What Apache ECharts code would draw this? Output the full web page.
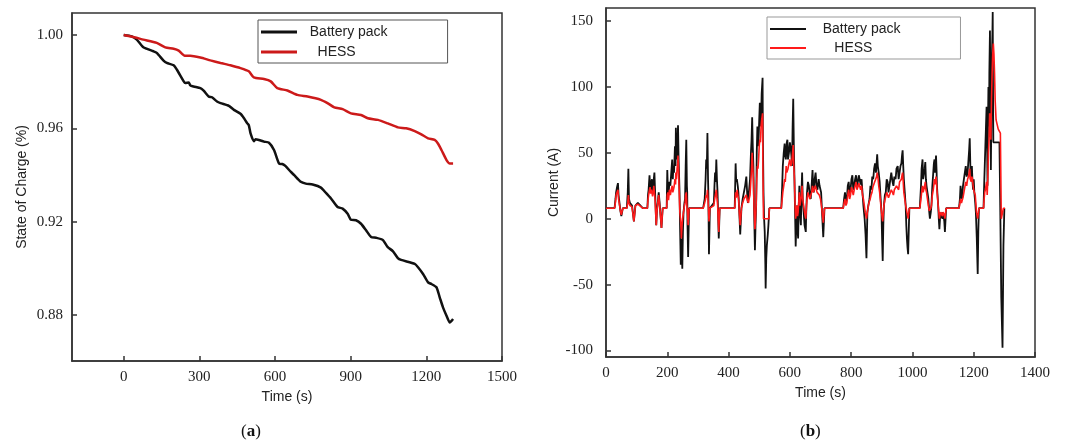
<!DOCTYPE html>
<html>
<head>
<meta charset="utf-8">
<script src="https://cdn.jsdelivr.net/npm/echarts@6/dist/echarts.min.js"></script>
<style>
html,body{margin:0;padding:0;background:#fff;}
#chart{width:1069px;height:444px;}
</style>
</head>
<body>
<div id="chart"></div>
<script>
// ---- Panel (a): State of charge ----
const socBattTime = [0,32,52,78,118,131,158,171,198,211,238,244,258,264,277,304,317,337,350,370,384,417,437,463,477,490,496,503,516,523,536,556,576,596,616,629,642,662,676,702,722,749,782,802,822,848,868,888,901,921,941,961,981,1001,1027,1047,1067,1087,1100,1154,1167,1187,1207,1220,1240,1253,1266,1280,1293,1300,1306];
const socBatt = [1.0000,0.9994,0.9980,0.9947,0.9930,0.9923,0.9890,0.9880,0.9870,0.9851,0.9801,0.9794,0.9796,0.9784,0.9779,0.9772,0.9761,0.9736,0.9733,0.9715,0.9708,0.9696,0.9679,0.9662,0.9643,0.9621,0.9614,0.9578,0.9545,0.9553,0.9550,0.9543,0.9538,0.9507,0.9449,0.9447,0.9438,0.9414,0.9399,0.9371,0.9363,0.9359,0.9346,0.9323,0.9299,0.9263,0.9256,0.9234,0.9208,0.9206,0.9191,0.9163,0.9134,0.9131,0.9122,0.9091,0.9074,0.9044,0.9036,0.9019,0.9005,0.8976,0.8940,0.8933,0.8919,0.8876,0.8833,0.8797,0.8768,0.8775,0.8783];
const socHessTime = [0,38,78,131,165,198,218,242,264,304,344,384,423,463,496,516,556,583,609,649,689,729,782,808,835,868,901,941,968,1008,1047,1087,1120,1154,1180,1207,1233,1246,1260,1280,1293,1306];
const socHess = [1.0000,0.9991,0.9980,0.9966,0.9947,0.9941,0.9933,0.9911,0.9911,0.9903,0.9891,0.9880,0.9870,0.9858,0.9844,0.9818,0.9811,0.9801,0.9772,0.9762,0.9743,0.9736,0.9722,0.9708,0.9690,0.9682,0.9664,0.9657,0.9643,0.9636,0.9621,0.9604,0.9600,0.9588,0.9574,0.9557,0.9550,0.9535,0.9507,0.9464,0.9449,0.9449];
const socXTicks = [0,300,600,900,1200,1500];
const socYTicks = [0.88,0.92,0.96,1.00];

// ---- Panel (b): Current, [time (s), current (A)] ----
const curBattPoints = [
[0,8],[28,8],[31,15],[33,20],[36,24],[39,27],[41,18],[43,14],[47,6],[50,2],[55,8],[68,8],[71,20],[73,38],[75,15],[78,12],[85,10],[91,-2],[96,10],[104,12],[110,11],[120,8],[135,8],[137,18],[139,22],[142,33],[144,24],[146,20],[148,28],[150,30],[152,20],[154,22],[156,30],[158,35],[161,15],[164,-5],[166,5],[168,10],[172,20],[175,12],[177,5],[181,-7],[185,8],[198,8],
[200,37],[202,22],[204,18],[207,28],[210,25],[213,35],[216,45],[218,30],[220,40],[222,35],[225,55],[227,40],[228,69],[230,45],[232,50],[234,62],[235,71],[237,45],[240,20],[242,-10],[244,-35],[245,-15],[246,-20],[248,-30],[249,-38],[251,-10],[253,5],[256,12],[258,15],[260,40],[262,60],[264,25],[265,20],[266,-5],[268,-29],[271,8],
[317,8],[322,15],[325,30],[327,45],[329,38],[331,65],[333,30],[334,20],[336,-27],[339,8],[352,12],[354,25],[356,35],[358,28],[360,45],[362,30],[364,20],[368,-15],[371,8],
[420,8],[423,42],[425,28],[427,30],[430,25],[432,20],[435,5],[438,-12],[442,8],[446,15],[450,20],[454,25],[458,32],[461,18],[463,12],[467,22],[470,30],[473,50],[475,60],[477,77],[479,55],[481,40],[483,10],[486,-24],[488,-5],[490,10],[492,50],[494,70],[496,55],[498,60],[500,75],[502,88],[504,70],[506,75],[508,95],[511,107],[512,60],[514,20],[516,0],[518,-10],[520,-35],[521,-53],[523,-30],[525,-20],[528,-12],[530,-5],[533,8],
[572,8],[575,25],[577,40],[580,50],[583,57],[585,48],[587,45],[590,58],[592,60],[594,45],[597,50],[600,58],[602,55],[605,48],[607,40],[609,70],[611,91],[613,55],[615,30],[617,5],[619,-21],[621,-5],[623,10],[625,-8],[627,-15],[629,10],[631,25],[633,5],[636,-5],[638,20],[640,35],[642,15],[645,5],[648,-5],[652,-10],[654,10],[656,20],[659,28],[662,25],[665,18],[668,15],[671,25],[674,37],[676,25],[678,20],[681,30],[684,35],[687,25],[690,22],[694,30],[697,25],[700,22],[702,20],[705,5],[709,-14],[713,8],
[774,8],[777,15],[780,20],[783,12],[786,15],[789,25],[792,28],[795,18],[798,22],[801,30],[804,33],[807,22],[810,25],[813,30],[816,33],[819,25],[822,28],[825,33],[828,33],[831,26],[834,30],[837,20],[840,10],[844,0],[847,-12],[850,-30],[853,5],[856,10],[860,15],[863,25],[866,22],[869,32],[872,30],[875,38],[878,42],[881,35],[885,49],[887,40],[890,35],[893,28],[895,20],[899,5],[901,-15],[903,-32],[905,-5],[907,10],[910,18],[913,20],[916,30],[919,28],[922,20],[925,25],[928,30],[931,35],[935,28],[938,25],[941,32],[945,30],[948,38],[952,40],[955,30],[958,35],[961,40],[964,42],[966,48],[968,52],[970,40],[972,30],[975,20],[978,10],[980,-5],[982,-15],[984,-22],[986,-27],[990,8],
[1024,8],[1028,25],[1030,38],[1033,45],[1035,30],[1038,30],[1040,38],[1042,43],[1044,30],[1046,25],[1049,20],[1052,15],[1055,5],[1057,0],[1060,5],[1062,10],[1065,25],[1068,35],[1070,42],[1072,45],[1074,35],[1077,48],[1079,35],[1080,25],[1084,10],[1086,0],[1088,-8],[1090,0],[1092,5],[1095,2],[1098,0],[1100,5],[1102,5],[1104,-2],[1106,-10],[1110,8],
[1152,8],[1155,15],[1157,25],[1160,18],[1162,15],[1165,25],[1168,30],[1171,35],[1174,40],[1177,32],[1180,35],[1183,45],[1185,52],[1187,61],[1189,40],[1190,30],[1192,35],[1194,40],[1196,28],[1198,22],[1200,30],[1202,20],[1205,12],[1207,5],[1210,-15],[1213,-42],[1215,-10],[1217,8],[1232,8],[1234,25],[1236,40],[1238,55],[1240,70],[1242,85],[1244,50],[1245,25],[1247,80],[1248,100],[1250,70],[1251,110],[1253,143],[1255,80],[1256,37],[1258,90],[1259,120],[1261,140],[1262,157],[1263,100],[1264,58],[1284,58],[1287,0],[1290,-60],[1294,-98],[1297,-20],[1300,8],[1302,8]
];
const curHessPoints = [
[0,8],[28,8],[31,13],[33,18],[36,20],[39,22],[41,15],[43,12],[47,6],[50,3],[55,8],[68,8],[71,12],[73,18],[75,12],[78,10],[85,9],[91,-2],[96,10],[104,11],[110,10],[120,8],[135,8],[137,14],[139,18],[142,22],[144,24],[146,19],[148,22],[150,20],[152,17],[154,20],[156,25],[158,24],[160,15],[164,-5],[166,5],[168,10],[172,18],[175,10],[177,5],[181,-7],[185,8],[198,8],
[200,18],[202,20],[204,14],[207,22],[210,18],[213,22],[216,25],[218,20],[220,22],[222,24],[225,30],[227,26],[228,35],[230,30],[232,38],[234,42],[235,48],[237,35],[239,20],[241,5],[243,0],[245,-8],[246,-15],[248,-5],[250,0],[253,5],[256,10],[258,12],[260,18],[262,20],[264,10],[266,5],[268,-5],[271,8],
[317,8],[322,12],[325,15],[327,18],[329,16],[331,22],[333,14],[334,10],[336,-2],[339,8],[352,10],[354,14],[356,15],[358,14],[360,22],[362,16],[364,12],[368,-10],[371,8],
[420,8],[423,20],[425,16],[428,22],[430,18],[433,15],[435,5],[438,-5],[442,8],[446,12],[450,15],[454,16],[458,18],[461,14],[465,12],[467,15],[470,18],[473,30],[475,38],[477,50],[479,40],[481,30],[483,10],[486,-8],[488,0],[490,10],[492,30],[494,40],[496,38],[498,45],[500,55],[502,60],[504,58],[506,70],[508,75],[511,80],[512,40],[514,0],[532,0],[533,8],
[572,8],[575,15],[577,20],[580,25],[583,30],[585,28],[588,40],[590,35],[594,38],[597,42],[600,45],[603,40],[606,42],[609,50],[611,56],[613,40],[615,30],[617,10],[619,0],[621,5],[623,10],[625,2],[627,5],[629,12],[631,20],[633,10],[636,10],[638,18],[640,25],[642,15],[645,10],[648,5],[652,0],[654,8],[656,15],[659,20],[662,20],[665,15],[668,15],[671,20],[674,25],[677,20],[680,20],[683,25],[686,25],[689,20],[692,20],[696,18],[700,15],[704,8],[709,-3],[713,8],
[774,8],[777,12],[780,15],[783,10],[786,12],[789,18],[792,22],[795,15],[798,18],[801,24],[804,25],[807,18],[810,22],[813,25],[816,28],[819,22],[822,24],[825,27],[828,27],[831,22],[834,25],[837,18],[840,15],[846,5],[850,0],[855,8],[858,12],[862,15],[865,18],[868,20],[871,24],[874,25],[877,28],[880,30],[883,32],[885,35],[888,30],[890,25],[893,20],[895,15],[899,5],[903,-2],[907,10],[910,14],[913,15],[916,20],[919,20],[922,16],[925,18],[928,20],[931,22],[935,20],[938,18],[941,22],[945,22],[948,25],[952,25],[955,22],[958,28],[961,28],[964,30],[966,33],[968,35],[970,28],[972,20],[975,15],[978,10],[982,5],[986,0],[990,8],
[1024,8],[1028,15],[1030,20],[1033,25],[1035,20],[1038,20],[1040,25],[1042,28],[1044,22],[1046,20],[1049,15],[1052,10],[1055,6],[1057,5],[1060,8],[1062,10],[1065,18],[1068,22],[1070,26],[1072,30],[1074,26],[1077,32],[1079,26],[1080,22],[1084,10],[1086,5],[1088,0],[1090,3],[1092,5],[1095,4],[1098,2],[1100,5],[1102,6],[1104,3],[1106,0],[1110,8],
[1152,8],[1155,12],[1157,15],[1160,12],[1162,12],[1165,16],[1168,20],[1171,24],[1174,28],[1177,25],[1180,30],[1183,32],[1185,35],[1187,38],[1189,30],[1192,28],[1194,32],[1196,30],[1198,25],[1200,22],[1202,20],[1205,18],[1209,5],[1213,0],[1217,8],[1232,8],[1234,15],[1236,20],[1238,22],[1240,25],[1242,28],[1244,18],[1246,30],[1248,50],[1250,60],[1252,80],[1254,70],[1256,60],[1258,90],[1260,110],[1262,125],[1264,133],[1266,125],[1268,110],[1270,90],[1273,75],[1276,72],[1280,68],[1287,65],[1290,0],[1297,8],[1302,8]
];
const curXTicks = [0,200,400,600,800,1000,1200,1400];
const curYTicks = [-100,-50,0,50,100,150];

const seriesNames = ['Battery pack','HESS'];

const pair = (t, v) => t.map((x, i) => [x, v[i]]);

const serif = 'Liberation Serif';
const sans = 'Liberation Sans';
const axisCol = '#333';

function xAxisCfg(grid, min, max, ticks, margin, gap) {
  return {
    type: 'value', gridIndex: grid, min: min, max: max,
    name: 'Time (s)', nameLocation: 'middle', nameGap: gap,
    nameTextStyle: {fontFamily: sans, fontSize: 14, color: '#222', verticalAlign: 'top'},
    axisLine: {show: true, onZero: false, lineStyle: {color: axisCol, width: 1.5}},
    axisTick: {show: true, inside: true, length: 5, customValues: ticks, lineStyle: {color: axisCol, width: 1.5}},
    axisLabel: {customValues: ticks, fontFamily: serif, fontSize: 15, color: '#222', margin: margin, showMinLabel: true, showMaxLabel: true, formatter: v => String(v)},
    splitLine: {show: false}
  };
}
function yAxisCfg(grid, name, min, max, ticks, margin, gap, fmt) {
  return {
    type: 'value', gridIndex: grid, min: min, max: max,
    name: name, nameLocation: 'middle', nameGap: gap,
    nameTextStyle: {fontFamily: sans, fontSize: 14, color: '#222'},
    axisLine: {show: true, onZero: false, lineStyle: {color: axisCol, width: 1.5}},
    axisTick: {show: true, inside: true, length: 5, customValues: ticks, lineStyle: {color: axisCol, width: 1.5}},
    axisLabel: {customValues: ticks, fontFamily: serif, fontSize: 15, color: '#222', margin: margin, formatter: fmt},
    splitLine: {show: false}
  };
}
function legendCfg(left, top, width, cols, lineH, gap, spA, spB, border) {
  return {
    orient: 'vertical', left: left, top: top, width: width,
    itemWidth: 36, itemHeight: lineH, itemGap: gap,
    padding: [5, 60, 4, 3],
    borderColor: border, borderWidth: 1,
    selectedMode: false,
    textStyle: {fontFamily: sans, fontSize: 14, color: '#222', lineHeight: 14},
    formatter: n => (n === 'HESS' ? spB : spA) + n,
    data: [
      {name: seriesNames[0], icon: 'rect', itemStyle: {color: cols[0]}},
      {name: seriesNames[1], icon: 'rect', itemStyle: {color: cols[1]}}
    ]
  };
}

const chart = echarts.init(document.getElementById('chart'), null, {renderer: 'canvas'});
chart.setOption({
  animation: false,
  backgroundColor: '#fff',
  grid: [
    {left: 72, top: 13, width: 430, height: 348, show: true, borderColor: axisCol, borderWidth: 1.5, containLabel: false},
    {left: 606, top: 8, width: 429, height: 349, show: true, borderColor: axisCol, borderWidth: 1.5, containLabel: false}
  ],
  xAxis: [
    xAxisCfg(0, -205, 1500, socXTicks, 9, 28),
    xAxisCfg(1, 0, 1400, curXTicks, 9, 28)
  ],
  yAxis: [
    yAxisCfg(0, 'State of Charge (%)', 0.8603, 1.0094, socYTicks, 9, 43, v => v.toFixed(2)),
    yAxisCfg(1, 'Current (A)', -105, 160, curYTicks, 13, 32, v => String(v))
  ],
  legend: [
    legendCfg(258, 20, 194, ['#111111', '#cc1a1a'], 3, 6, '  ', '    ', '#555'),
    legendCfg(767, 17, 202, ['#111111', '#ff1a1a'], 2, 5, '   ', '      ', '#999')
  ],
  series: [
    {name: seriesNames[0], type: 'line', xAxisIndex: 0, yAxisIndex: 0, data: pair(socBattTime, socBatt), showSymbol: false, symbol: 'none', smooth: 0.2, lineStyle: {color: '#111111', width: 2.5}, itemStyle: {color: '#111111'}, z: 2},
    {name: seriesNames[1], type: 'line', xAxisIndex: 0, yAxisIndex: 0, data: pair(socHessTime, socHess), showSymbol: false, symbol: 'none', smooth: 0.2, lineStyle: {color: '#cc1a1a', width: 2.5}, itemStyle: {color: '#cc1a1a'}, z: 3},
    {name: seriesNames[0], type: 'line', xAxisIndex: 1, yAxisIndex: 1, data: curBattPoints, showSymbol: false, symbol: 'none', lineStyle: {color: '#111111', width: 1.8}, itemStyle: {color: '#111111'}, z: 2},
    {name: seriesNames[1], type: 'line', xAxisIndex: 1, yAxisIndex: 1, data: curHessPoints, showSymbol: false, symbol: 'none', lineStyle: {color: '#ff1a1a', width: 1.6}, itemStyle: {color: '#ff1a1a'}, z: 3}
  ],
  graphic: [
    {type: 'text', left: 241, top: 423, style: {text: '{p|(}{b|a}{p|)}', rich: {p: {fontFamily: serif, fontSize: 17, fill: '#111'}, b: {fontFamily: serif, fontSize: 17, fontWeight: 'bold', fill: '#111'}}}},
    {type: 'text', left: 800, top: 423, style: {text: '{p|(}{b|b}{p|)}', rich: {p: {fontFamily: serif, fontSize: 17, fill: '#111'}, b: {fontFamily: serif, fontSize: 17, fontWeight: 'bold', fill: '#111'}}}}
  ]
});
</script>
</body>
</html>
